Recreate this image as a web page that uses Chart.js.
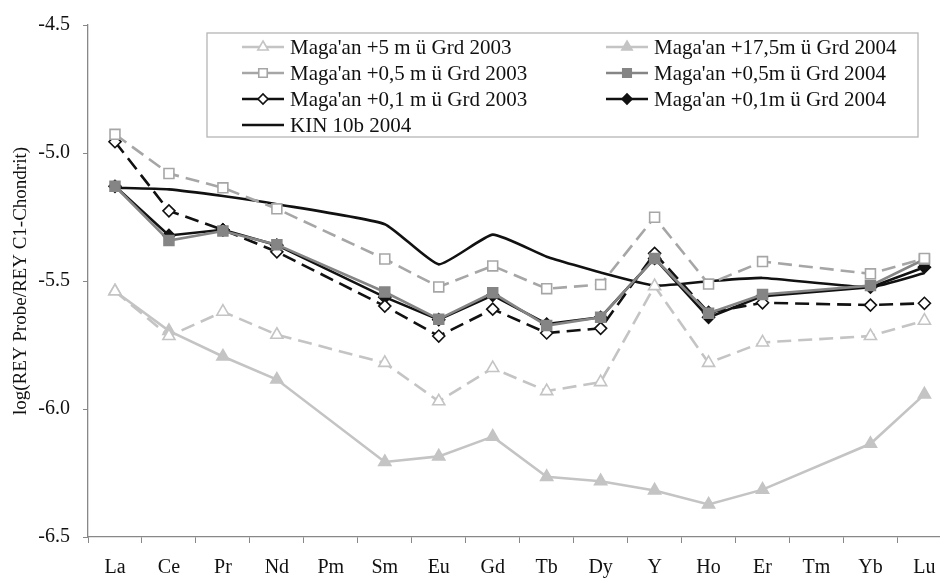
<!DOCTYPE html>
<html>
<head>
<meta charset="utf-8">
<script src="https://cdn.jsdelivr.net/npm/chart.js@4"></script>
<style>
  html, body { margin: 0; padding: 0; background: #fff; overflow: hidden; }
  #wrap { width: 960px; height: 580px; }
</style>
</head>
<body>
<div id="wrap"><canvas id="reyChart" width="960" height="580"></canvas></div>
<script>
const elements = ['La', 'Ce', 'Pr', 'Nd', 'Pm', 'Sm', 'Eu', 'Gd', 'Tb', 'Dy', 'Y', 'Ho', 'Er', 'Tm', 'Yb', 'Lu'];
const yTicks = [-6.5, -6.0, -5.5, -5.0, -4.5];

// Pm und Tm nicht gemessen -> null
const maga5m2003 = [-5.54, -5.715, -5.62, -5.71, null, -5.82, -5.97, -5.84, -5.93, -5.895, -5.52, -5.82, -5.74, null, -5.715, -5.655];
const maga175m2004 = [-5.54, -5.695, -5.795, -5.885, null, -6.207, -6.185, -6.108, -6.265, -6.282, -6.318, -6.373, -6.315, null, -6.136, -5.943];
const maga05m2003 = [-4.927, -5.08, -5.136, -5.218, null, -5.414, -5.523, -5.441, -5.53, -5.514, -5.251, -5.512, -5.424, null, -5.472, -5.412];
const maga05m2004 = [-5.13, -5.342, -5.305, -5.358, null, -5.543, -5.649, -5.546, -5.674, -5.642, -5.412, -5.626, -5.553, null, -5.518, -5.415];
const maga01m2003 = [-4.956, -5.226, -5.30, -5.386, null, -5.598, -5.715, -5.61, -5.703, -5.685, -5.392, -5.623, -5.585, null, -5.594, -5.587];
const maga01m2004 = [-5.13, -5.322, -5.30, -5.36, null, -5.563, -5.651, -5.556, -5.668, -5.642, -5.412, -5.642, -5.559, null, -5.524, -5.446];
const kin10b2004 = [-5.136, -5.142, -5.168, -5.20, null, -5.278, -5.435, -5.319, -5.405, -5.467, -5.518, -5.501, -5.488, null, -5.524, -5.469];

const dash = [14, 7];
const serif = '"Liberation Serif", "Times New Roman", serif';

function serie(label, data, color, fill, style, radius, dashed, order) {
  return {
    label: label,
    data: data,
    borderColor: color,
    backgroundColor: fill,
    pointStyle: style,
    pointRadius: radius,
    pointHoverRadius: radius,
    pointBorderColor: color,
    pointBackgroundColor: fill,
    pointBorderWidth: 1.6,
    borderWidth: 2.6,
    borderDash: dashed ? dash : [],
    spanGaps: true,
    tension: 0,
    fill: false,
    legendRow: order[0],
    legendCol: order[1],
  };
}

const datasets = [
  serie("Maga'an +5 m ü Grd 2003", maga5m2003, '#c4c4c4', '#ffffff', 'triangle', 7, true, [0, 0]),
  serie("Maga'an +17,5m ü Grd 2004", maga175m2004, '#c4c4c4', '#c4c4c4', 'triangle', 7, false, [0, 1]),
  serie("Maga'an +0,5 m ü Grd 2003", maga05m2003, '#a6a6a6', '#ffffff', 'rect', 7, true, [1, 0]),
  serie("Maga'an +0,5m ü Grd 2004", maga05m2004, '#858585', '#858585', 'rect', 7, false, [1, 1]),
  serie("Maga'an +0,1 m ü Grd 2003", maga01m2003, '#111111', '#ffffff', 'rectRot', 6, true, [2, 0]),
  serie("Maga'an +0,1m ü Grd 2004", maga01m2004, '#111111', '#111111', 'rectRot', 6, false, [2, 1]),
  serie('KIN 10b 2004', kin10b2004, '#111111', '#111111', 'circle', 0, false, [3, 0]),
];
datasets[6].tension = 0.15;

// Legende im Diagramm, zweispaltig mit Rahmen
const boxLegend = {
  id: 'boxLegend',
  afterDraw(chart) {
    const ctx = chart.ctx;
    const box = { x: 207, y: 33, w: 711, h: 104 };
    const colX = [263, 627];
    const rowY = [47, 73, 99, 125];
    ctx.save();
    ctx.fillStyle = '#ffffff';
    ctx.strokeStyle = '#b5b5b5';
    ctx.lineWidth = 1.3;
    ctx.fillRect(box.x, box.y, box.w, box.h);
    ctx.strokeRect(box.x, box.y, box.w, box.h);
    chart.data.datasets.forEach(ds => {
      const cx = colX[ds.legendCol];
      const cy = rowY[ds.legendRow];
      ctx.setLineDash([]);
      ctx.strokeStyle = ds.borderColor;
      ctx.lineWidth = ds.borderWidth;
      ctx.beginPath();
      ctx.moveTo(cx - 21, cy);
      ctx.lineTo(cx + 21, cy);
      ctx.stroke();
      if (ds.pointRadius > 0) {
        ctx.fillStyle = ds.pointBackgroundColor;
        ctx.strokeStyle = ds.pointBorderColor;
        ctx.lineWidth = ds.pointBorderWidth;
        Chart.helpers.drawPoint(ctx, { pointStyle: ds.pointStyle, radius: ds.pointRadius - 1, rotation: 0, borderWidth: ds.pointBorderWidth }, cx, cy);
      }
      ctx.fillStyle = '#111111';
      ctx.font = '21px ' + serif;
      ctx.textAlign = 'left';
      ctx.textBaseline = 'middle';
      ctx.fillText(ds.label, cx + 27, cy + 1);
    });
    ctx.restore();
  }
};

new Chart(document.getElementById('reyChart'), {
  type: 'line',
  data: { labels: elements, datasets: datasets },
  plugins: [boxLegend],
  options: {
    responsive: false,
    animation: false,
    layout: { padding: { top: 20, right: 8, bottom: 0, left: 0 } },
    plugins: {
      legend: { display: false },
      tooltip: { enabled: false },
    },
    scales: {
      x: {
        type: 'category',
        offset: true,
        afterFit: function (scale) { scale.height = 43; },
        border: { color: '#888888', width: 1.3 },
        grid: { offset: true, drawOnChartArea: false, drawTicks: true, tickLength: 6, color: '#888888' },
        ticks: { color: '#111111', font: { family: serif, size: 20 }, padding: 13, maxRotation: 0, autoSkip: false },
      },
      y: {
        min: -6.5,
        max: -4.5,
        afterFit: function (scale) { scale.width = 88; },
        afterBuildTicks: function (scale) { scale.ticks = yTicks.map(v => ({ value: v })); },
        border: { color: '#888888', width: 1.3 },
        grid: { drawOnChartArea: false, drawTicks: true, tickLength: 5, color: '#888888' },
        ticks: {
          color: '#111111',
          font: { family: serif, size: 20 },
          padding: 13,
          callback: function (value) { return value.toFixed(1); },
        },
        title: {
          display: true,
          text: 'log(REY Probe/REY C1-Chondrit)',
          color: '#111111',
          font: { family: serif, size: 19 },
          padding: { top: 10, bottom: 0 },
        },
      },
    },
  },
});
</script>
</body>
</html>
